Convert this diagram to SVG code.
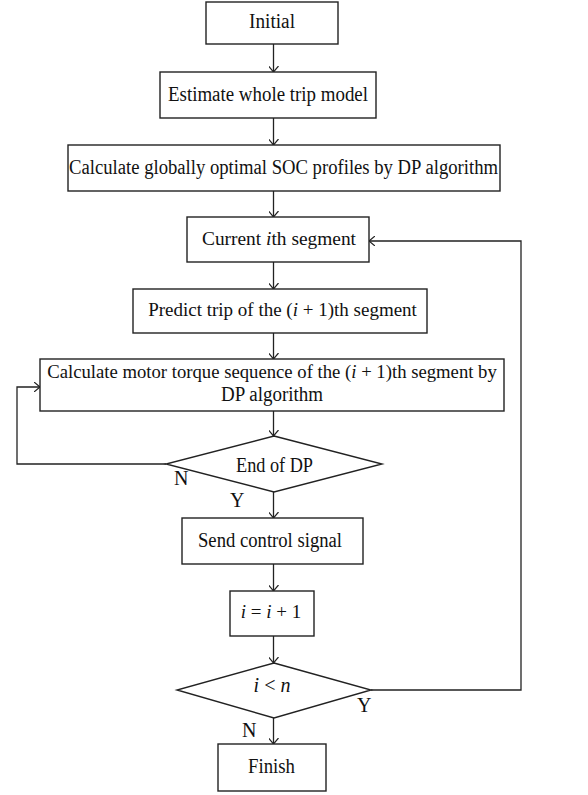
<svg xmlns="http://www.w3.org/2000/svg" width="588" height="795" viewBox="0 0 588 795">
<style>
.box{fill:#fff;stroke:#222;stroke-width:1.4}
.ln{fill:none;stroke:#222;stroke-width:1.3}
text{font-family:"Liberation Serif","Times New Roman",serif;font-size:20px;fill:#111}
.c{text-anchor:middle}
.it{font-style:italic}
</style>
<defs>
<marker id="ah" viewBox="0 0 6 10" refX="6" refY="5" markerWidth="6" markerHeight="10" markerUnits="userSpaceOnUse" orient="auto">
<path d="M0,0 L6,5 L0,10" fill="none" stroke="#222" stroke-width="1.2"/>
</marker>
</defs>
<rect width="588" height="795" fill="#fff"/>
<g id="connectors">
<path class="ln" d="M273.5,44 V72" marker-end="url(#ah)"/>
<path class="ln" d="M273.5,118 V145" marker-end="url(#ah)"/>
<path class="ln" d="M273.5,191 V217" marker-end="url(#ah)"/>
<path class="ln" d="M273.5,262 V289" marker-end="url(#ah)"/>
<path class="ln" d="M273.5,333 V359" marker-end="url(#ah)"/>
<path class="ln" d="M273.5,411 V436" marker-end="url(#ah)"/>
<path class="ln" d="M166,464 H17 V387 H40" marker-end="url(#ah)"/>
<path class="ln" d="M273.5,492 V518" marker-end="url(#ah)"/>
<path class="ln" d="M273.5,564 V591" marker-end="url(#ah)"/>
<path class="ln" d="M273.5,636 V663" marker-end="url(#ah)"/>
<path class="ln" d="M371,690 H521 V241 H369" marker-end="url(#ah)"/>
<path class="ln" d="M273.5,718 V744" marker-end="url(#ah)"/>
<text x="174" y="485">N</text>
<text x="230" y="507">Y</text>
<text x="357" y="712">Y</text>
<text x="242" y="737">N</text>
</g>
<g id="initial">
<rect class="box" x="206" y="2" width="132" height="42"/>
<text class="c" x="272" y="28" textLength="46" lengthAdjust="spacingAndGlyphs">Initial</text>
</g>
<g id="estimate">
<rect class="box" x="160" y="72" width="216" height="46"/>
<text class="c" x="268" y="101" textLength="200" lengthAdjust="spacingAndGlyphs">Estimate whole trip model</text>
</g>
<g id="global">
<rect class="box" x="68" y="145" width="432" height="46"/>
<text class="c" x="283.5" y="174" textLength="429" lengthAdjust="spacingAndGlyphs">Calculate globally optimal SOC profiles by DP algorithm</text>
</g>
<g id="current">
<rect class="box" x="187" y="217" width="182" height="45"/>
<text class="c" x="279" y="245" style="font-size:19.4px">Current <tspan class="it">i</tspan>th segment</text>
</g>
<g id="predict">
<rect class="box" x="133" y="289" width="294" height="44"/>
<text class="c" x="282.5" y="316" style="font-size:19px">Predict trip of the (<tspan class="it">i</tspan> + 1)th segment</text>
</g>
<g id="motor">
<rect class="box" x="40" y="359" width="464" height="52"/>
<text class="c" x="272" y="378" style="font-size:18.7px">Calculate motor torque sequence of the (<tspan class="it">i</tspan> + 1)th segment by</text>
<text class="c" x="272" y="401" textLength="102" lengthAdjust="spacingAndGlyphs">DP algorithm</text>
</g>
<g id="enddp">
<polygon class="box" points="274,436 382,464 274,492 166,464"/>
<text class="c" x="274.5" y="472" textLength="77" lengthAdjust="spacingAndGlyphs">End of DP</text>
</g>
<g id="send">
<rect class="box" x="182" y="518" width="181" height="46"/>
<text class="c" x="270" y="547" textLength="144" lengthAdjust="spacingAndGlyphs">Send control signal</text>
</g>
<g id="incr">
<rect class="box" x="230" y="591" width="84" height="45"/>
<text class="c" x="271" y="618" style="font-size:19px"><tspan class="it">i</tspan> = <tspan class="it">i</tspan> + 1</text>
</g>
<g id="cond">
<polygon class="box" points="274,663 371,690 274,718 177,690"/>
<text class="c" x="272" y="692"><tspan class="it">i</tspan> &lt; <tspan class="it">n</tspan></text>
</g>
<g id="finish">
<rect class="box" x="218" y="744" width="108" height="47"/>
<text class="c" x="271.5" y="773" textLength="47" lengthAdjust="spacingAndGlyphs">Finish</text>
</g>
</svg>
